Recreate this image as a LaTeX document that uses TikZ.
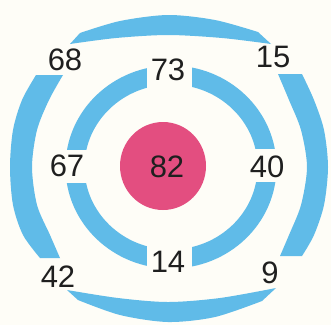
\documentclass[tikz,border=0pt]{standalone}
\usepackage{fontspec}
\setmainfont{Liberation Sans}
\definecolor{ringblue}{RGB}{96,187,232}
\definecolor{corepink}{RGB}{227,78,128}
\definecolor{paper}{RGB}{254,253,247}
\begin{document}
\begin{tikzpicture}[x=1pt,y=-1pt,
  shell/.style={fill=ringblue,draw=none},
  gap/.style={fill=paper,draw=none},
  num/.style={font=\fontsize{31}{31}\selectfont,text=black!88,inner sep=0pt}]
\fill[paper] (0,0) rectangle (331,325);
\useasboundingbox (0,0) rectangle (331,325);
% ---- outer shell: four pieces ----
% top
\fill[shell] plot[smooth] coordinates {(80,33) (120,21) (168,15) (215,20) (258,32)}
  -- plot[smooth] coordinates {(271,44) (222,38) (168,35) (116,38) (70,44)} -- cycle;
% bottom
\fill[shell] plot[smooth] coordinates {(78,300) (120,315) (168,322) (215,317) (262,301)}
  -- plot[smooth] coordinates {(276,288) (220,298) (168,302) (118,298) (67,290)} -- cycle;
% left
\fill[shell] plot[smooth] coordinates {(36,75) (22,100) (13,130) (10,167) (13,205) (23,235) (40,258)}
  -- plot[smooth] coordinates {(60,258) (50,235) (37,205) (32,167) (37,130) (49,100) (63,75)} -- cycle;
% right
\fill[shell] plot[smooth] coordinates {(302,74) (314,100) (324,130) (328,167) (324,205) (314,235) (302,256)}
  -- plot[smooth] coordinates {(280,256) (289,235) (301,205) (307,167) (301,130) (289,100) (278,74)} -- cycle;
% ---- inner shell ----
\draw[ringblue,line width=19] (171,167) ellipse [x radius=96, y radius=92];
\fill[gap] (147,50) rectangle (192,95);
\fill[gap] (147,235) rectangle (192,285);
\fill[gap] (50,150) rectangle (100,183);
\fill[gap] (240,149) rectangle (292,182);
% ---- core ----
\fill[corepink] (163,166) ellipse [x radius=43, y radius=44];
% ---- labels ----
\node[num] (n82) at (167,167) {82};
\node[num] (n73) at (168,70) {73};
\node[num] (n14) at (168,262) {14};
\node[num] (n67) at (67,166) {67};
\node[num] (n40) at (267,167) {40};
\node[num] (n68) at (65,60) {68};
\node[num] (n15) at (273,57) {15};
\node[num] (n42) at (58,277) {42};
\node[num] (n9) at (270,273) {9};
\end{tikzpicture}
\end{document}
